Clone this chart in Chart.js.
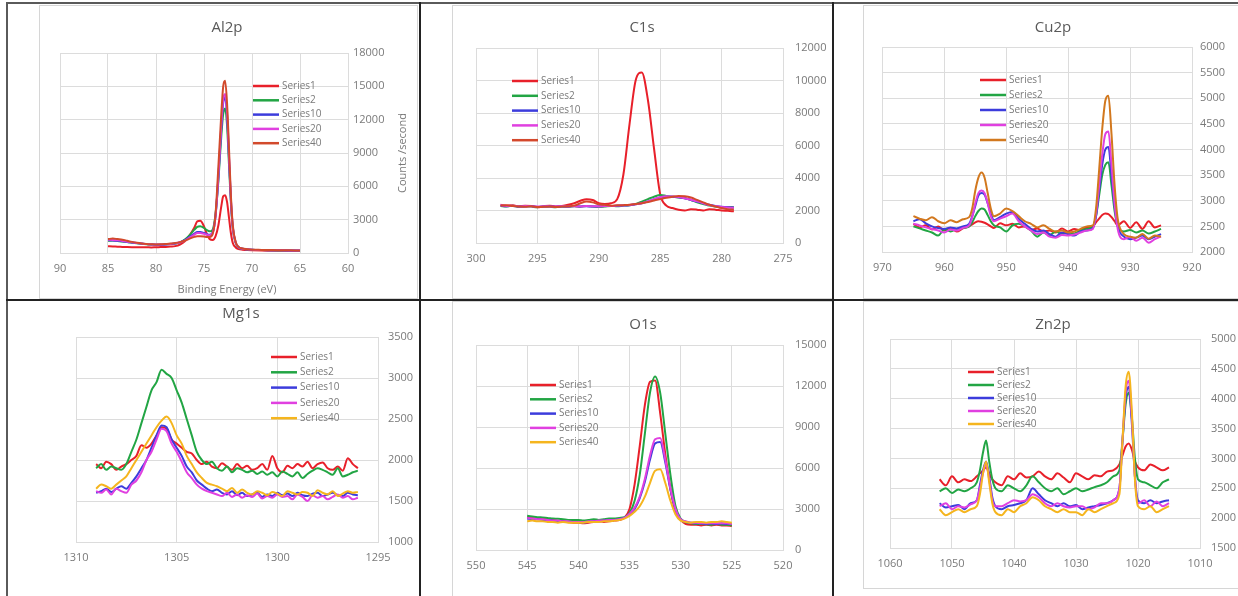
<!DOCTYPE html>
<html>
<head>
<meta charset="utf-8">
<script src="https://cdn.jsdelivr.net/npm/chart.js@4.4.1/dist/chart.umd.min.js"></script>
<style>
  body { margin: 0; background: #fff; }
  #page { position: relative; width: 1238px; height: 596px; overflow: hidden; background: #fff; }
  .rule { position: absolute; background: #222; }
  .frame { position: absolute; border: 1px solid #d6d6d6; box-sizing: border-box; }
  canvas { position: absolute; }
</style>
</head>
<body>
<div id="page">
  <div class="frame" style="left:39px;top:5px;width:379px;height:294px"></div>
  <div class="frame" style="left:452px;top:5px;width:382px;height:294px"></div>
  <div class="frame" style="left:863px;top:5px;width:380px;height:294px"></div>
  <div class="frame" style="left:452px;top:301px;width:382px;height:300px"></div>
  <div class="frame" style="left:863px;top:301px;width:380px;height:288px"></div>

  <canvas id="al2p"></canvas>
  <canvas id="c1s"></canvas>
  <canvas id="cu2p"></canvas>
  <canvas id="mg1s"></canvas>
  <canvas id="o1s"></canvas>
  <canvas id="zn2p"></canvas>

  <div class="rule" style="left:6px;top:2px;width:1232px;height:2px;background:#5a5a5a"></div>
  <div class="rule" style="left:6px;top:2px;width:2px;height:594px;background:#5a5a5a"></div>
  <div class="rule" style="left:419px;top:2px;width:2px;height:594px"></div>
  <div class="rule" style="left:832px;top:2px;width:2px;height:594px"></div>
  <div class="rule" style="left:6px;top:299px;width:1232px;height:2px"></div>
</div>
<script>
// ---- data ----
const seriesNames = ['Series1', 'Series2', 'Series10', 'Series20', 'Series40'];

// Al2p
const alX = [85,84.5,84,83.5,83,82.5,82,81.5,81,80.5, 80,79.5,79,78.5,78,77.5,77,76.5,76,75.7,
  75.4,75,74.7,74.4,74.1,73.8,73.5,73.2,73,72.8, 72.6,72.4,72.2,72,71.7,71.4,71,70.5,70,69, 68,67,66,65];
const alS1 = [600,590,560,550,530,520,520,510,520,500, 520,530,550,580,620,760,1050,1600,2300,2850,
  2900,2400,1700,1250,1180,1500,2500,4200,5100,5200, 4600,3200,1800,900,500,350,300,260,240,220, 210,200,190,180];
const alS2 = [1100,1120,1080,1040,980,930,880,830,790,760, 740,740,760,800,850,950,1200,1600,2100,2350,
  2400,2250,2050,1950,2100,3500,6500,10500,12500,13000, 11500,8000,4500,2200,900,500,380,320,290,260, 240,230,220,210];
const alS10 = [1150,1130,1100,1060,1000,950,900,850,800,770, 750,750,770,810,860,960,1150,1450,1750,1900,
  1900,1800,1700,1650,1850,3300,6800,11200,13500,14000, 12400,8600,4800,2300,950,520,390,330,300,270, 250,240,230,220];
const alS20 = [1200,1180,1140,1090,1020,960,910,860,810,780, 760,760,780,820,870,960,1120,1380,1650,1800,
  1800,1720,1650,1600,1800,3300,7000,11500,13800,14300, 12700,8800,4900,2300,950,520,390,330,300,270, 250,240,230,220];
const alS40 = [1250,1300,1250,1200,1100,1000,920,860,820,790, 770,780,800,850,900,980,1100,1300,1450,1500,
  1500,1480,1450,1450,1700,3500,7800,12500,15000,15500, 13500,9500,5200,2500,1000,550,400,340,300,280, 260,250,240,230];

// C1s
const c1X = [298,297.5,297,296.5,296,295.5,295,294.5,294,293.5, 293,292.5,292,291.5,291,290.5,290,289.5,289,288.5,
  288,287.5,287,286.5,286,285.5,285,284.5,284,283.5, 283,282.5,282,281.5,281,280.5,280,279.5,279];
const c1S1 = [2350,2300,2320,2250,2300,2280,2200,2260,2300,2250, 2280,2350,2450,2600,2700,2650,2450,2400,2450,2700,
  4200,7300,10000,10500,8800,5800,3000,2300,2150,2050, 2000,2080,2050,2000,2080,2050,2000,1980,1950];
const c1S2 = [2280,2250,2300,2220,2260,2240,2200,2250,2230,2200, 2250,2220,2260,2230,2280,2250,2220,2250,2280,2260,
  2300,2320,2400,2550,2700,2850,2950,2900,2850,2800, 2750,2650,2500,2400,2300,2250,2200,2220,2200];
const c1S10 = [2300,2260,2280,2240,2250,2270,2220,2240,2260,2230, 2250,2240,2270,2250,2260,2240,2260,2280,2270,2290,
  2300,2330,2380,2450,2550,2700,2800,2850,2850,2820, 2750,2650,2550,2450,2350,2280,2230,2200,2180];
const c1S20 = [2320,2280,2300,2250,2270,2260,2240,2260,2250,2240, 2270,2250,2260,2240,2270,2260,2250,2270,2280,2300,
  2320,2340,2380,2450,2560,2700,2820,2880,2860,2830, 2760,2660,2560,2450,2330,2270,2220,2190,2170];
const c1S40 = [2300,2320,2280,2250,2230,2260,2210,2230,2250,2220, 2240,2260,2300,2450,2550,2500,2380,2350,2300,2320,
  2330,2350,2400,2450,2520,2620,2700,2780,2850,2900, 2880,2800,2650,2500,2350,2250,2150,2080,2050];

// Cu2p
const cuX = [965,964,963,962,961,960,959,958,957,956, 955.5,955,954.5,954,953.5,953,952.5,952,
  951,950,949,948,947,946,945,944,943,942,941,940,939,938,937,936, 935.5,935,934.5,934,933.5,933,932.5,932,
  931,930,929,928,927,926,925];
const cuS1 = [2550,2480,2520,2440,2500,2420,2470,2400,2460,2500, 2540,2580,2600,2590,2570,2540,2500,2470,
  2560,2520,2550,2480,2500,2430,2460,2400,2420,2380,2460,2400,2450,2420,2480,2500, 2580,2650,2720,2750,2740,2680,2600,2520,
  2600,2470,2580,2450,2600,2480,2520];
const cuS2 = [2500,2460,2420,2380,2320,2440,2400,2450,2470,2500, 2580,2700,2800,2850,2830,2720,2600,2520,
  2480,2400,2520,2550,2500,2420,2300,2380,2330,2400,2350,2380,2360,2420,2450,2500, 2700,3100,3500,3700,3750,3300,2800,2500,
  2400,2430,2380,2420,2360,2400,2450];
const cuS10 = [2600,2640,2560,2500,2470,2450,2480,2460,2500,2550, 2700,2900,3100,3150,3120,2950,2750,2620,
  2680,2750,2780,2650,2550,2450,2400,2420,2350,2300,2380,2350,2320,2400,2420,2470, 2700,3200,3700,4000,4050,3500,2900,2500,
  2300,2250,2280,2320,2250,2300,2350];
const cuS20 = [2550,2520,2480,2450,2420,2380,2440,2420,2470,2520, 2680,2950,3150,3200,3150,2950,2700,2600,
  2650,2700,2750,2600,2500,2420,2350,2380,2300,2280,2330,2320,2340,2380,2420,2450, 2750,3300,3900,4300,4350,3700,2950,2450,
  2250,2300,2220,2280,2180,2250,2300];
const cuS40 = [2700,2650,2620,2680,2600,2560,2620,2580,2640,2680, 2850,3200,3450,3550,3450,3150,2850,2700,
  2750,2850,2800,2700,2600,2550,2480,2520,2450,2400,2420,2380,2400,2450,2500,2520, 2850,3600,4400,4950,5050,4300,3300,2650,
  2350,2300,2280,2350,2260,2320,2300];

// Mg1s
const mgX = [1309,1308.75,1308.5,1308.25,1308,1307.75,1307.5,1307.25,1307,1306.75,
  1306.5,1306.25,1306,1305.75,1305.5,1305.25,1305,1304.75,1304.5,1304.25,
  1304,1303.75,1303.5,1303.25,1303,1302.75,1302.5,1302.25,1302,1301.75,
  1301.5,1301.25,1301,1300.75,1300.5,1300.25,1300,1299.75,1299.5,1299.25,
  1299,1298.75,1298.5,1298.25,1298,1297.75,1297.5,1297.25,1297,1296.75,
  1296.5,1296.25,1296];
const mgS1 = [1950,1900,1980,1950,1880,1920,1950,2000,2050,2180, 2150,2200,2300,2400,2380,2250,2200,2150,2100,2080,
  2000,1950,1980,1920,1900,1960,1920,1880,1950,1900, 1930,1880,1900,1950,1880,2050,1900,1850,1930,1900,
  1950,1920,1980,1900,1950,1970,1900,1880,1920,1870, 2020,1950,1900];
const mgS2 = [1900,1950,1880,1920,1900,1880,1950,2100,2250,2450, 2650,2850,2950,3100,3050,3000,2850,2700,2500,2300,
  2100,2000,1950,1980,1900,1870,1920,1850,1900,1880, 1850,1870,1830,1860,1820,1850,1800,1860,1830,1800,
  1850,1780,1830,1870,1900,1880,1850,1820,1900,1800, 1820,1850,1870];
const mgS10 = [1600,1620,1650,1610,1650,1680,1650,1720,1800,1900, 2000,2150,2300,2420,2400,2250,2150,2050,1920,1850,
  1750,1700,1650,1620,1640,1600,1580,1620,1570,1600, 1560,1580,1600,1550,1580,1560,1600,1570,1590,1560,
  1600,1570,1560,1590,1600,1560,1580,1600,1570,1560, 1600,1580,1570];
const mgS20 = [1620,1600,1640,1580,1650,1620,1600,1700,1750,1850, 2000,2100,2250,2380,2350,2200,2100,1980,1850,1780,
  1700,1650,1620,1600,1580,1560,1600,1550,1580,1540, 1570,1550,1590,1530,1560,1540,1580,1550,1560,1520,
  1580,1550,1500,1570,1540,1560,1520,1550,1580,1540, 1560,1520,1540];
const mgS40 = [1650,1700,1680,1650,1700,1750,1800,1900,2000,2100, 2200,2300,2400,2480,2530,2450,2300,2200,2050,1950,
  1850,1780,1720,1700,1680,1650,1620,1660,1600,1640, 1600,1580,1620,1600,1570,1610,1590,1560,1620,1600,
  1580,1610,1600,1560,1630,1600,1580,1620,1560,1590, 1620,1600,1610];

// O1s
const o1X = [545,544.5,544,543.5,543,542.5,542,541.5,541,540.5, 540,539.5,539,538.5,538,537.5,537,536.5,536,535.5,
  535,534.5,534,533.5,533,532.5,532,531.5,531,530.5, 530,529.5,529,528.5,528,527.5,527,526.5,526,525.5,525];
const o1S1 = [2400,2350,2300,2280,2250,2200,2150,2100,2050,2000, 2000,1950,2000,2050,2100,2050,2100,2150,2200,2350,
  3000,4800,7600,10600,12300,12400,10000,7000,4500,2800, 2200,1900,1850,1850,1800,1850,1800,1850,1800,1800,1750];
const o1S2 = [2500,2450,2400,2380,2350,2300,2280,2250,2200,2200, 2200,2150,2200,2250,2200,2250,2300,2300,2350,2400,
  2700,3600,5500,8500,11500,12700,11500,8500,5500,3200, 2300,2050,1950,1900,1900,1880,1850,1900,1850,1850,1800];
const o1S10 = [2300,2250,2250,2200,2200,2150,2100,2100,2050,2050, 2050,2000,2050,2100,2100,2150,2150,2200,2250,2350,
  2600,3000,3800,5000,6600,7800,7900,6400,4400,2900, 2200,2050,2000,1950,1950,1900,1950,1900,1950,1900,1900];
const o1S20 = [2350,2300,2250,2250,2200,2150,2150,2100,2100,2050, 2050,2050,2100,2100,2150,2150,2200,2200,2250,2350,
  2650,3100,3900,5200,6900,8100,8200,6600,4500,3000, 2250,2100,2000,2000,1950,1950,1950,1950,1950,1950,1900];
const o1S40 = [2100,2150,2100,2100,2050,2050,2000,2050,2000,2000, 2000,2000,2050,2050,2050,2100,2100,2150,2200,2300,
  2500,2800,3200,3900,4900,5800,5900,4900,3600,2600, 2150,2050,2000,2050,2050,2000,2050,2050,2100,2050,2000];

// Zn2p
const znX = [1052,1051,1050,1049,1048,1047, 1046,1045.5,1045,1044.5,1044,1043.5,1043,
  1042,1041,1040,1039,1038,1037,1036,1035,1034,1033,1032,1031,1030,1029,1028,1027,1026,1025,1024,
  1023,1022.5,1022,1021.5,1021,1020.5,1020, 1019,1018,1017,1016,1015];
const znS1 = [2650,2550,2700,2600,2650,2620, 2700,2750,2800,2850,2750,2650,2600,
  2550,2700,2650,2750,2680,2700,2780,2700,2650,2750,2680,2600,2750,2700,2650,2720,2700,2780,2800,
  2900,3050,3200,3250,3150,2950,2850, 2800,2900,2850,2800,2850];
const znS2 = [2450,2500,2420,2480,2450,2500, 2600,2800,3100,3300,2950,2650,2500,
  2450,2550,2500,2450,2550,2700,2600,2500,2450,2500,2400,2450,2500,2450,2480,2520,2550,2600,2700,
  2800,3300,3900,4100,3700,3000,2650, 2600,2550,2500,2600,2650];
const znS10 = [2250,2180,2200,2220,2150,2250, 2300,2550,2800,2950,2700,2350,2200,
  2150,2200,2220,2250,2300,2500,2400,2300,2250,2200,2250,2200,2220,2150,2180,2200,2220,2250,2300,
  2500,3300,4000,4200,3600,2700,2300, 2250,2300,2250,2280,2300];
const znS20 = [2200,2250,2150,2200,2180,2230, 2300,2500,2750,2900,2650,2300,2200,
  2200,2250,2300,2280,2300,2400,2350,2250,2200,2250,2200,2180,2200,2200,2150,2180,2250,2250,2300,
  2500,3300,4100,4300,3700,2700,2250, 2300,2200,2280,2200,2250];
const znS40 = [2150,2050,2100,2150,2100,2150, 2200,2400,2750,2950,2600,2250,2100,
  2050,2150,2100,2200,2250,2350,2300,2200,2150,2100,2150,2100,2100,2050,2150,2100,2150,2200,2250,
  2400,3300,4200,4450,3800,2650,2200, 2150,2200,2100,2150,2200];

// ---- drawing ----
Chart.defaults.font.family = '"Open Sans", sans-serif';
Chart.defaults.font.size = 11;
Chart.defaults.color = '#7a7a7a';

const palette = ['#e8202a', '#22a544', '#3c3cdc', '#e040e0'];
const gridColor = '#dcdcdc';

// title, legend and axis titles drawn on the canvas
const decor = {
  id: 'decor',
  afterDraw(chart, args, o) {
    const ctx = chart.ctx;
    ctx.save();
    ctx.fillStyle = '#595959';
    ctx.textBaseline = 'middle';
    ctx.textAlign = 'center';
    ctx.font = '15px "Open Sans"';
    ctx.fillText(o.title, o.tx, o.ty);

    ctx.font = '10px "Open Sans"';
    ctx.textAlign = 'left';
    chart.data.datasets.forEach((ds, i) => {
      const y = o.ly + i * o.lg;
      ctx.strokeStyle = ds.borderColor;
      ctx.lineWidth = 2.5;
      ctx.beginPath();
      ctx.moveTo(o.lx, y);
      ctx.lineTo(o.lx + 26, y);
      ctx.stroke();
      ctx.fillStyle = '#7a7a7a';
      ctx.fillText(ds.label, o.lx + 29, y);
    });

    ctx.font = '11px "Open Sans"';
    ctx.fillStyle = '#7a7a7a';
    ctx.textAlign = 'center';
    if (o.xTitle) ctx.fillText(o.xTitle[0], o.xTitle[1], o.xTitle[2]);
    if (o.yTitle) {
      ctx.translate(o.yTitle[1], o.yTitle[2]);
      ctx.rotate(-Math.PI / 2);
      ctx.fillText(o.yTitle[0], 0, 0);
    }
    ctx.restore();
  }
};

function makeChart(id, title, xs, series, lastColor, cfg) {
  const cv = document.getElementById(id);
  const [cl, ct, cw, ch] = cfg.c;
  const [pl, pt, pr, pb] = cfg.p;
  cv.style.left = cl + 'px';
  cv.style.top = ct + 'px';
  cv.width = cw;
  cv.height = ch;
  const colors = palette.concat([lastColor]);
  const fmt = v => String(v);
  const yW = cl + cw - pr;   // right axis box runs to the canvas edge
  const xH = 26;

  new Chart(cv, {
    type: 'line',
    data: {
      datasets: series.map((ys, i) => ({
        label: seriesNames[i],
        data: xs.map((x, j) => ({ x: x, y: ys[j] })),
        borderColor: colors[i],
        backgroundColor: colors[i],
        borderWidth: 2,
        pointRadius: 0,
        cubicInterpolationMode: 'monotone',
        order: series.length - i
      }))
    },
    options: {
      responsive: false,
      animation: false,
      layout: {
        padding: { left: pl - cl, top: pt - ct, right: 0, bottom: ct + ch - pb - xH }
      },
      scales: {
        x: {
          type: 'linear', reverse: true,
          min: cfg.x[0], max: cfg.x[1],
          ticks: { stepSize: cfg.x[2], padding: 9, maxRotation: 0, autoSkip: false, callback: fmt },
          grid: { color: gridColor, drawTicks: false },
          border: { color: gridColor },
          afterFit: s => { s.height = xH; }
        },
        y: {
          position: 'right',
          min: cfg.y[0], max: cfg.y[1],
          ticks: { stepSize: cfg.y[2], padding: cfg.yPad, callback: fmt },
          grid: { color: gridColor, drawTicks: false },
          border: { color: gridColor },
          afterFit: s => { s.width = yW; }
        }
      },
      plugins: {
        legend: { display: false },
        tooltip: { enabled: false },
        decor: {
          title: title, tx: cfg.t[0] - cl, ty: cfg.t[1] - ct,
          lx: cfg.l[0] - cl, ly: cfg.l[1] - ct, lg: cfg.l[2],
          xTitle: cfg.xt ? [cfg.xt[0], cfg.xt[1] - cl, cfg.xt[2] - ct] : null,
          yTitle: cfg.yt ? [cfg.yt[0], cfg.yt[1] - cl, cfg.yt[2] - ct] : null
        }
      }
    },
    plugins: [decor]
  });
}

makeChart('al2p', 'Al2p', alX, [alS1, alS2, alS10, alS20, alS40], '#d24a2c', {
  c: [40, 6, 377, 294], p: [60, 53, 348, 253],
  x: [60, 90, 5], y: [0, 18000, 3000], yPad: 5,
  t: [227, 28], l: [253, 86, 14.3],
  xt: ['Binding Energy (eV)', 227, 290], yt: ['Counts /second', 403, 153]
});
makeChart('c1s', 'C1s', c1X, [c1S1, c1S2, c1S10, c1S20, c1S40], '#d4482c', {
  c: [453, 6, 379, 294], p: [476, 48, 783, 243],
  x: [275, 300, 5], y: [0, 12000, 2000], yPad: 12,
  t: [642, 28], l: [512, 81, 14.8]
});
makeChart('cu2p', 'Cu2p', cuX, [cuS1, cuS2, cuS10, cuS20, cuS40], '#d2781e', {
  c: [864, 6, 374, 294], p: [881, 47, 1192, 252],
  x: [920, 970, 10], y: [2000, 6000, 500], yPad: 8,
  t: [1053, 28], l: [980, 80, 15]
});
makeChart('mg1s', 'Mg1s', mgX, [mgS1, mgS2, mgS10, mgS20, mgS40], '#f5b51e', {
  c: [8, 301, 411, 295], p: [76, 337, 378, 542],
  x: [1295, 1310, 5], y: [1000, 3500, 500], yPad: 10,
  t: [241, 314], l: [271, 357, 15.3]
});
makeChart('o1s', 'O1s', o1X, [o1S1, o1S2, o1S10, o1S20, o1S40], '#f5b51e', {
  c: [453, 301, 379, 295], p: [476, 345, 783, 550],
  x: [520, 550, 5], y: [0, 15000, 3000], yPad: 12,
  t: [643, 325], l: [530, 385, 14.3]
});
makeChart('zn2p', 'Zn2p', znX, [znS1, znS2, znS10, znS20, znS40], '#f5b51e', {
  c: [864, 301, 374, 295], p: [890, 339, 1200, 548],
  x: [1010, 1060, 10], y: [1500, 5000, 500], yPad: 11,
  t: [1053, 325], l: [968, 372, 13]
});
</script>
</body>
</html>
